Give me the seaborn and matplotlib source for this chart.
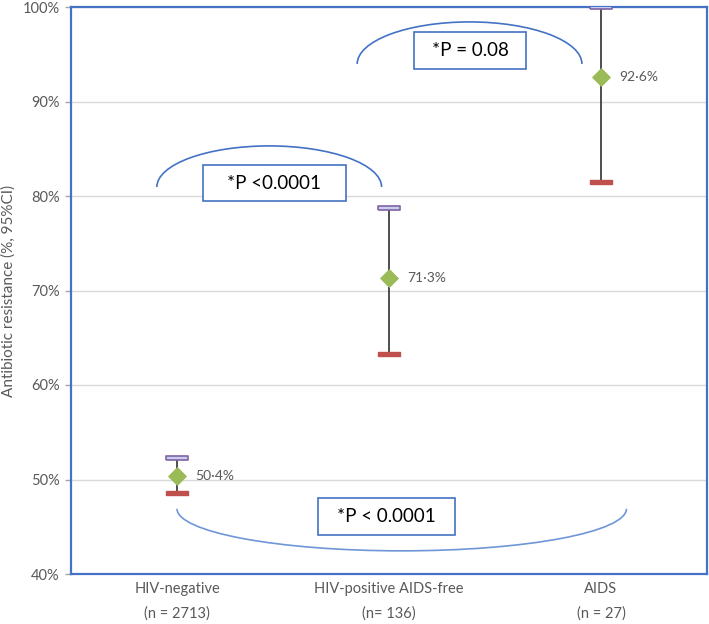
import numpy as np
import pandas as pd
import seaborn as sns
import matplotlib.pyplot as plt
from matplotlib.patches import Arc, Rectangle

groups = ['HIV-negative\n(n = 2713)', 'HIV-positive AIDS-free\n(n= 136)', 'AIDS\n(n = 27)']
mean = [50.4, 71.3, 92.6]
lower = [48.6, 63.3, 81.5]
upper = [52.3, 78.7, 100.0]
labels = ['50·4%', '71·3%', '92·6%']
p_texts = ['*P <0.0001', '*P = 0.08', '*P < 0.0001']

df = pd.DataFrame({'group': groups, 'mean': mean, 'lower': lower, 'upper': upper})

sns.set_style('white')
plt.rcParams['font.family'] = ['Lato', 'DejaVu Sans']

fig = plt.figure(figsize=(7.09, 6.24), dpi=100)
ax = fig.add_axes([71 / 709, 50 / 624, 636 / 709, 567 / 624])

blue = '#4472c4'
gray_txt = '#595959'

# CI lines
ax.vlines(range(3), df['lower'], df['upper'], color='#404040', lw=1.3, zorder=2)

cap = [(-1, -0.2), (1, -0.2), (1, 0.2), (-1, 0.2), (-1, -0.2)]
sns.scatterplot(data=df, x='group', y='upper', marker=cap, s=16 ** 2,
                color='#c9cdf2', edgecolor='#8064a2', linewidth=1.2, ax=ax, zorder=4)
sns.scatterplot(data=df, x='group', y='lower', marker=cap, s=16 ** 2,
                color='#c0504d', edgecolor='#c0504d', linewidth=1, ax=ax, zorder=4)
sns.scatterplot(data=df, x='group', y='mean', marker='D', s=9 ** 2,
                color='#9bbb59', edgecolor='#9bbb59', ax=ax, zorder=5)

for i, (m, lab) in enumerate(zip(mean, labels)):
    ax.annotate(lab, (i, m), xytext=(13, 0), textcoords='offset points',
                va='center', ha='left', fontsize=10, color=gray_txt)

ax.set_xlim(-0.5, 2.5)
ax.set_ylim(40, 100)
ax.set_yticks(np.arange(40, 101, 10))
ax.set_yticklabels([f'{v}%' for v in range(40, 101, 10)])
ax.yaxis.grid(True, color='#d9d9d9', lw=1)
ax.set_axisbelow(True)
ax.tick_params(axis='y', left=True, length=4, width=1, color='#a6a6a6',
               labelsize=10.5, labelcolor=gray_txt, pad=4)
ax.tick_params(axis='x', length=0, labelsize=10.5, labelcolor=gray_txt, pad=6)
for lab in ax.get_xticklabels():
    lab.set_linespacing(1.9)
ax.set_xlabel('')
ax.set_ylabel('Antibiotic resistance (%, 95%CI)', fontsize=11, color=gray_txt, labelpad=5)
for sp in ax.spines.values():
    sp.set_visible(True)
    sp.set_color(blue)
    sp.set_linewidth(1.6)

# significance brackets
ax.add_patch(Arc((0.435, 80.95), 1.06, 8.7, theta1=0, theta2=180, color=blue, lw=1.2, clip_on=False))
ax.add_patch(Arc((1.38, 93.97), 1.06, 8.9, theta1=0, theta2=180, color=blue, lw=1.2, clip_on=False))
ax.add_patch(Arc((1.06, 46.9), 2.12, 8.9, theta1=180, theta2=360, color='#6f96d8', lw=1.2, clip_on=False))

boxes = [(0.122, 79.47, 0.675, 3.81), (1.12, 93.44, 0.528, 3.91), (0.663, 44.13, 0.646, 3.91)]
for (x0, y0, w, h), t in zip(boxes, p_texts):
    ax.add_patch(Rectangle((x0, y0), w, h, facecolor='white', edgecolor=blue, lw=1.2, zorder=3))
    ax.text(x0 + w / 2, y0 + h / 2, t, ha='center', va='center', fontsize=13.5, color='black', zorder=4)

fig.savefig('out.png', dpi=100)
